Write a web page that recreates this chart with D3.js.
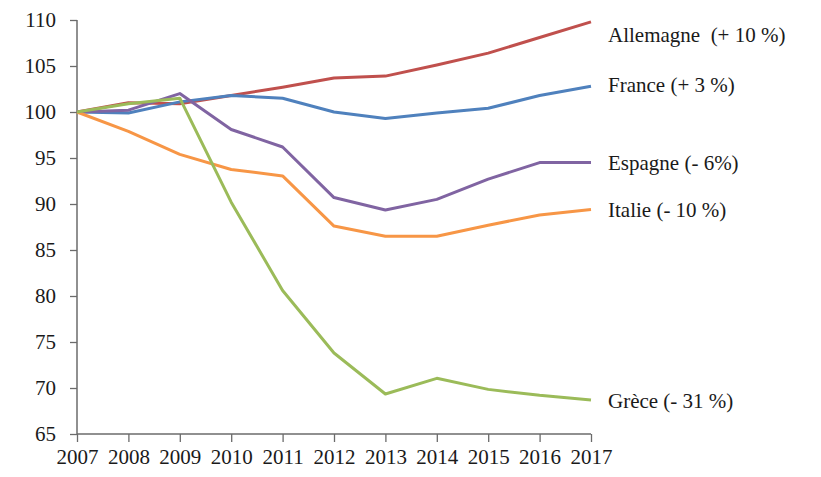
<!doctype html>
<html>
  <head>
    <script src="https://cdn.jsdelivr.net/npm/d3@7"></script>
    <style>
      body { margin: 0; background: #fff; overflow: hidden; }
      svg { display: block; }
    </style>
  </head>
  <body>
    <script>
    // data (index 2007 = 100)
    var years = [2007, 2008, 2009, 2010, 2011, 2012, 2013, 2014, 2015, 2016, 2017];
    var allemagne = [100, 101.0, 100.9, 101.8, 102.7, 103.7, 103.9, 105.1, 106.4, 108.1, 109.8];
    var france = [100, 99.9, 101.1, 101.8, 101.5, 100.0, 99.3, 99.9, 100.4, 101.8, 102.8];
    var espagne = [100, 100.2, 102.0, 98.1, 96.2, 90.7, 89.35, 90.5, 92.7, 94.5, 94.5];
    var italie = [100, 97.9, 95.4, 93.75, 93.05, 87.6, 86.5, 86.5, 87.7, 88.8, 89.4];
    var grece = [100, 100.9, 101.5, 90.2, 80.6, 73.8, 69.35, 71.05, 69.85, 69.2, 68.7];
    var names = ["Allemagne  (+ 10 %)", "France (+ 3 %)", "Espagne (- 6%)", "Italie (- 10 %)", "Grèce (- 31 %)"];
    var colors = ["#c0504d", "#4f81bd", "#8064a2", "#f79646", "#9bbb59"];
    var yTicks = [65, 70, 75, 80, 85, 90, 95, 100, 105, 110];

    var series = [allemagne, france, espagne, italie, grece];

    var width = 821;
    var height = 477;
    var margin = {top: 20, right: 230, bottom: 43, left: 77};
    var innerWidth = width - margin.left - margin.right;
    var innerHeight = height - margin.top - margin.bottom;

    var svg = d3.select("body")
              .append("svg")
              .attr("width", width)
              .attr("height", height);

    var g = svg.append("g")
            .attr("transform", "translate(" + margin.left + "," + margin.top + ")");

    var x = d3.scaleLinear()
              .domain([2007, 2017])
              .range([0, innerWidth]);

    var y = d3.scaleLinear()
              .domain([65, 110])
              .range([innerHeight, 0]);

    var font = "'Liberation Serif', 'Times New Roman', serif";

    var xAxis = d3.axisBottom(x)
                .tickValues(years)
                .tickFormat(d3.format("d"))
                .tickSize(8)
                .tickPadding(7);

    var yAxis = d3.axisLeft(y)
                .tickValues(yTicks)
                .tickSize(7)
                .tickPadding(14);

    var gx = g.append("g")
      .attr("transform", "translate(0," + innerHeight + ")")
      .call(xAxis);

    var gy = g.append("g")
      .call(yAxis);

    [gx, gy].forEach(function(a) {
      a.select(".domain").attr("stroke", "#6b6b6b").attr("stroke-width", 1.5);
      a.selectAll(".tick line").attr("stroke", "#6b6b6b").attr("stroke-width", 1.3);
      a.selectAll(".tick text")
        .attr("fill", "#1a1a1a")
        .style("font-family", font)
        .style("font-size", "21px");
    });
    // plain axis lines, without the outer stubs
    gx.select(".domain").attr("d", "M0,0H" + innerWidth);
    gy.select(".domain").attr("d", "M0," + innerHeight + "V0");

    var line = d3.line()
            .x(function(d, i) { return x(years[i]); })
            .y(function(d) { return y(d); });

    g.selectAll(".serie")
      .data(series)
      .enter()
      .append("path")
        .attr("class", "serie")
        .attr("fill", "none")
        .attr("stroke", function(d, i) { return colors[i]; })
        .attr("stroke-width", 3)
        .attr("stroke-linejoin", "round")
        .attr("d", line);

    // labels at the end of each line
    var labelY = [35, 85, 163, 210, 401];
    g.selectAll(".label")
      .data(names)
      .enter()
      .append("text")
        .attr("class", "label")
        .attr("x", innerWidth + 17)
        .attr("y", function(d, i) { return labelY[i] - margin.top; })
        .attr("dy", "0.35em")
        .attr("fill", "#1a1a1a")
        .style("white-space", "pre")
        .style("font-family", font)
        .style("font-size", "21px")
        .text(function(d) { return d; });

    </script>
  </body>
</html>
